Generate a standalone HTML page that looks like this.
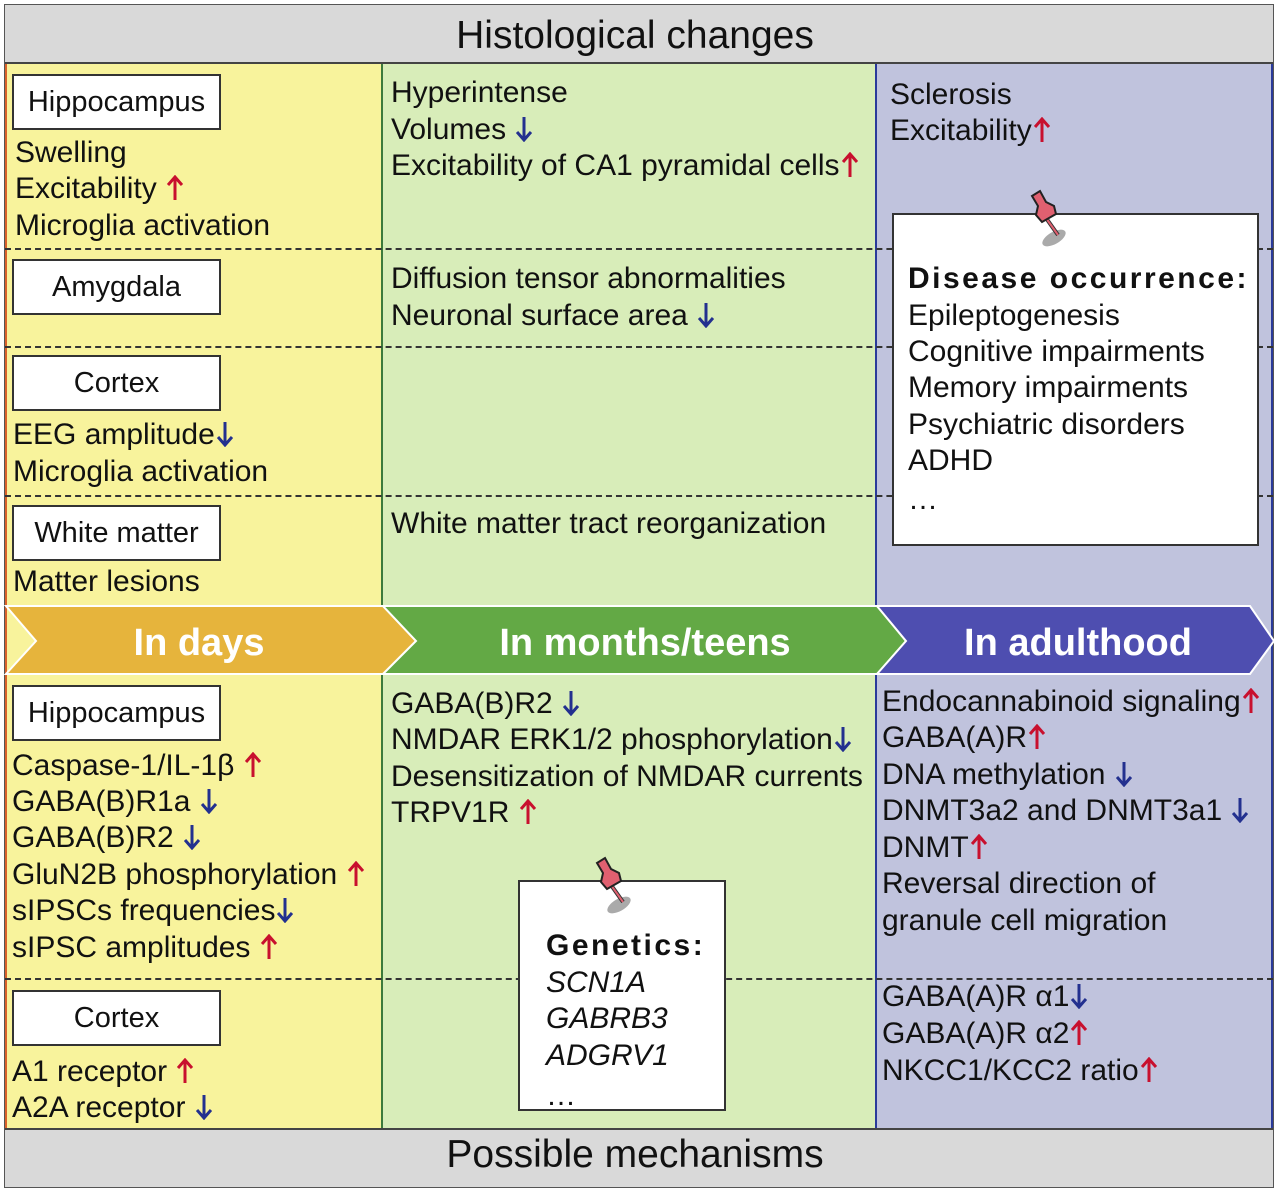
<!DOCTYPE html>
<html><head><meta charset="utf-8"><style>
body{margin:0;width:1278px;height:1192px;background:#fff;position:relative;overflow:hidden;font-family:"Liberation Sans",Arial,sans-serif;}
div{position:absolute;box-sizing:border-box;}
.t{font-size:30px;line-height:32px;white-space:nowrap;color:#111;}
.b{background:#fff;border:2px solid #333;font-size:29px;text-align:center;line-height:52px;height:56px;width:209px;left:12px;color:#111;}
svg.a{display:inline-block;width:16px;height:26px;vertical-align:-3px;margin-left:2px;}
.dash{height:0;border-top:2px dashed #333;}
.bk{font-weight:900;letter-spacing:2.5px;}
</style></head><body>
<svg width="0" height="0" style="position:absolute"><defs>
<g id="up"><line x1="8" y1="25" x2="8" y2="3" stroke="#c8102e" stroke-width="3"/><polyline points="1,10 8,2 15,10" fill="none" stroke="#c8102e" stroke-width="3"/></g>
<g id="dn"><line x1="8" y1="1" x2="8" y2="23" stroke="#23308f" stroke-width="3"/><polyline points="1,16 8,24 15,16" fill="none" stroke="#23308f" stroke-width="3"/></g>
</defs></svg>
<div style="left:4px;top:4px;width:1270px;height:1184px;border:2px solid #555;"></div>
<div style="left:5px;top:5px;width:1268px;height:59px;background:#d9d9d9;border-bottom:2px solid #444;"></div>
<div class="t" style="left:0;width:1270px;top:14px;text-align:center;font-size:39px;line-height:44px;">Histological changes</div>
<div style="left:5px;top:1128px;width:1268px;height:59px;background:#d9d9d9;border-top:2px solid #444;"></div>
<div class="t" style="left:0;width:1270px;top:1133px;text-align:center;font-size:39px;line-height:44px;">Possible mechanisms</div>
<div style="left:5px;top:64px;width:376px;height:1064px;background:#f8f39c;border-left:2px solid #d9622b;"></div>
<div style="left:381px;top:64px;width:494px;height:1064px;background:#d8edb9;border-left:2px solid #3c7a3c;"></div>
<div style="left:875px;top:64px;width:398px;height:1064px;background:#c0c3dd;border-left:2px solid #2a3a9a;border-right:2px solid #2a3a9a;"></div>
<div class="dash" style="left:5px;top:248px;width:1268px;"></div>
<div class="dash" style="left:5px;top:346px;width:1268px;"></div>
<div class="dash" style="left:5px;top:495px;width:1268px;"></div>
<div class="dash" style="left:5px;top:978px;width:1268px;"></div>
<svg style="position:absolute;left:0;top:600px" width="1278" height="80">
<polygon points="6,6 383,6 416,41 383,74 6,74 36,41" fill="#e6b43c" stroke="#fff" stroke-width="2"/>
<polygon points="383,6 877,6 906,41 877,74 383,74 416,41" fill="#63a945" stroke="#fff" stroke-width="2"/>
<polygon points="877,6 1250,6 1274,41 1250,74 877,74 906,41" fill="#4e4eb0" stroke="#fff" stroke-width="2"/>
<text x="199" y="55" font-size="38" font-weight="bold" fill="#fff" text-anchor="middle" font-family="Liberation Sans,sans-serif">In days</text>
<text x="645" y="55" font-size="38" font-weight="bold" fill="#fff" text-anchor="middle" font-family="Liberation Sans,sans-serif">In months/teens</text>
<text x="1078" y="55" font-size="38" font-weight="bold" fill="#fff" text-anchor="middle" font-family="Liberation Sans,sans-serif">In adulthood</text>
</svg>
<div class="b" style="top:74px;">Hippocampus</div>
<div class="t" style="left:15px;top:137px;">Swelling</div>
<div class="t" style="left:15px;top:173px;">Excitability <svg class="a"><use href="#up"/></svg></div>
<div class="t" style="left:15px;top:210px;">Microglia activation</div>
<div class="b" style="top:259px;">Amygdala</div>
<div class="b" style="top:355px;">Cortex</div>
<div class="t" style="left:13px;top:419px;">EEG amplitude<svg class="a"><use href="#dn"/></svg></div>
<div class="t" style="left:13px;top:456px;">Microglia activation</div>
<div class="b" style="top:505px;">White matter</div>
<div class="t" style="left:13px;top:566px;">Matter lesions</div>
<div class="t" style="left:391px;top:77px;">Hyperintense</div>
<div class="t" style="left:391px;top:114px;">Volumes <svg class="a"><use href="#dn"/></svg></div>
<div class="t" style="left:391px;top:150px;">Excitability of CA1 pyramidal cells<svg class="a"><use href="#up"/></svg></div>
<div class="t" style="left:391px;top:263px;">Diffusion tensor abnormalities</div>
<div class="t" style="left:391px;top:300px;">Neuronal surface area <svg class="a"><use href="#dn"/></svg></div>
<div class="t" style="left:391px;top:508px;">White matter tract reorganization</div>
<div class="t" style="left:890px;top:79px;">Sclerosis</div>
<div class="t" style="left:890px;top:115px;">Excitability<svg class="a"><use href="#up"/></svg></div>
<div style="left:892px;top:213px;width:367px;height:333px;background:#fff;border:2px solid #333;"></div>
<div class="t bk" style="left:908px;top:263px;">Disease occurrence:</div>
<div class="t" style="left:908px;top:300px;">Epileptogenesis</div>
<div class="t" style="left:908px;top:336px;">Cognitive impairments</div>
<div class="t" style="left:908px;top:372px;">Memory impairments</div>
<div class="t" style="left:908px;top:409px;">Psychiatric disorders</div>
<div class="t" style="left:908px;top:445px;">ADHD</div>
<div class="t" style="left:908px;top:484px;">…</div>
<svg style="position:absolute;left:1020px;top:188px" width="60" height="60">
<ellipse cx="34" cy="50" rx="13" ry="6" fill="#aaa" transform="rotate(-30 34 50)"/>
<line x1="26" y1="30" x2="38" y2="47" stroke="#333" stroke-width="4"/>
<line x1="26" y1="30" x2="38" y2="47" stroke="#e06070" stroke-width="2"/>
<path d="M12,8 L20,3 L26,14 L34,18 L36,26 L22,34 L16,27 L18,18 Z" fill="#e06070" stroke="#222" stroke-width="2"/>
</svg>
<div class="b" style="top:685px;">Hippocampus</div>
<div class="t" style="left:12px;top:750px;">Caspase-1/IL-1β <svg class="a"><use href="#up"/></svg></div>
<div class="t" style="left:12px;top:786px;">GABA(B)R1a <svg class="a"><use href="#dn"/></svg></div>
<div class="t" style="left:12px;top:822px;">GABA(B)R2 <svg class="a"><use href="#dn"/></svg></div>
<div class="t" style="left:12px;top:859px;">GluN2B phosphorylation <svg class="a"><use href="#up"/></svg></div>
<div class="t" style="left:12px;top:895px;">sIPSCs frequencies<svg class="a"><use href="#dn"/></svg></div>
<div class="t" style="left:12px;top:932px;">sIPSC amplitudes <svg class="a"><use href="#up"/></svg></div>
<div class="b" style="top:990px;">Cortex</div>
<div class="t" style="left:12px;top:1056px;">A1 receptor <svg class="a"><use href="#up"/></svg></div>
<div class="t" style="left:12px;top:1092px;">A2A receptor <svg class="a"><use href="#dn"/></svg></div>
<div class="t" style="left:391px;top:688px;">GABA(B)R2 <svg class="a"><use href="#dn"/></svg></div>
<div class="t" style="left:391px;top:724px;">NMDAR ERK1/2 phosphorylation<svg class="a"><use href="#dn"/></svg></div>
<div class="t" style="left:391px;top:761px;">Desensitization of NMDAR currents</div>
<div class="t" style="left:391px;top:797px;">TRPV1R <svg class="a"><use href="#up"/></svg></div>
<div style="left:518px;top:880px;width:208px;height:231px;background:#fff;border:2px solid #333;"></div>
<div class="t bk" style="left:546px;top:930px;">Genetics:</div>
<div class="t" style="left:546px;top:967px;font-style:italic;">SCN1A</div>
<div class="t" style="left:546px;top:1003px;font-style:italic;">GABRB3</div>
<div class="t" style="left:546px;top:1040px;font-style:italic;">ADGRV1</div>
<div class="t" style="left:546px;top:1080px;">…</div>
<svg style="position:absolute;left:585px;top:855px" width="60" height="60">
<ellipse cx="34" cy="50" rx="13" ry="6" fill="#aaa" transform="rotate(-30 34 50)"/>
<line x1="26" y1="30" x2="38" y2="47" stroke="#333" stroke-width="4"/>
<line x1="26" y1="30" x2="38" y2="47" stroke="#e06070" stroke-width="2"/>
<path d="M12,8 L20,3 L26,14 L34,18 L36,26 L22,34 L16,27 L18,18 Z" fill="#e06070" stroke="#222" stroke-width="2"/>
</svg>
<div class="t" style="left:882px;top:686px;">Endocannabinoid signaling<svg class="a"><use href="#up"/></svg></div>
<div class="t" style="left:882px;top:722px;">GABA(A)R<svg class="a"><use href="#up"/></svg></div>
<div class="t" style="left:882px;top:759px;">DNA methylation <svg class="a"><use href="#dn"/></svg></div>
<div class="t" style="left:882px;top:795px;">DNMT3a2 and DNMT3a1 <svg class="a"><use href="#dn"/></svg></div>
<div class="t" style="left:882px;top:832px;">DNMT<svg class="a"><use href="#up"/></svg></div>
<div class="t" style="left:882px;top:868px;">Reversal direction of</div>
<div class="t" style="left:882px;top:905px;">granule cell migration</div>
<div class="t" style="left:882px;top:981px;">GABA(A)R α1<svg class="a"><use href="#dn"/></svg></div>
<div class="t" style="left:882px;top:1018px;">GABA(A)R α2<svg class="a"><use href="#up"/></svg></div>
<div class="t" style="left:882px;top:1055px;">NKCC1/KCC2 ratio<svg class="a"><use href="#up"/></svg></div>
</body></html>
